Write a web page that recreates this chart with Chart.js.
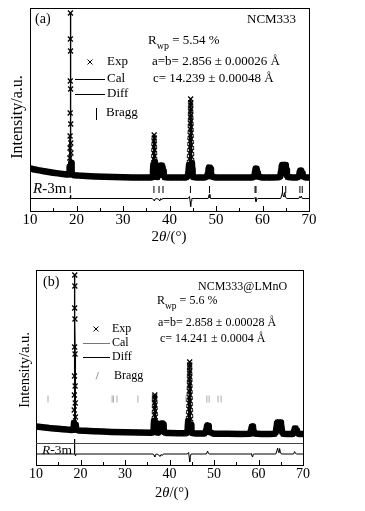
<!DOCTYPE html>
<html>
<head>
<meta charset="utf-8">
<script src="https://cdn.jsdelivr.net/npm/chart.js@4.4.0/dist/chart.umd.min.js"></script>
<style>
  html, body { margin: 0; padding: 0; background: #fff; }
  body { width: 365px; height: 511px; position: relative; overflow: hidden; }
  canvas { position: absolute; left: 0; }
  #panel-a { top: 0; }
  #panel-b { top: 255px; }
</style>
</head>
<body>
<canvas id="panel-a" width="365" height="250"></canvas>
<canvas id="panel-b" width="365" height="256"></canvas>
<script>
const SERIF = "'Liberation Serif', 'Times New Roman', Times, serif";

// 2θ tick labels (both panels)
const thetaTicks = [10, 20, 30, 40, 50, 60, 70];

// ---- (a) NCM333 : [2θ, intensity] ----
const obsA = [
    [10, 42.5], [11, 41.5], [12, 40.6], [13, 39.8], [14, 39], [15, 38.3], [16, 37.6], [17, 37], [18, 36.5], [18.3, 36.4],
    [18.45, 38], [18.52, 44], [18.56, 53], [18.6, 63], [18.62, 75], [18.64, 98], [18.66, 130], [18.68, 172], [18.7, 198],
    [18.72, 160], [18.74, 122], [18.76, 87], [18.78, 68], [18.81, 58], [18.85, 48], [18.9, 41], [19, 37],
    [19.5, 35.8], [20.5, 35.4], [22, 35], [24, 34.6], [26, 34.2], [28, 33.9], [30, 33.7], [32, 33.5], [34, 33.4], [36, 33.4],
    [36.3, 34], [36.45, 40], [36.52, 46], [36.57, 52], [36.6, 58], [36.63, 64], [36.66, 70], [36.7, 76], [36.73, 73],
    [36.76, 67], [36.79, 61], [36.82, 55], [36.86, 49], [36.9, 43], [36.98, 38], [37.1, 34.5], [37.4, 34],
    [37.75, 36], [37.9, 40], [38.0, 44], [38.15, 45.5], [38.35, 45.5], [38.5, 44], [38.62, 40], [38.75, 36], [39, 33.8],
    [40, 33.4], [42, 33.4], [43.6, 33.6],
    [43.95, 35], [44.1, 40], [44.2, 46], [44.27, 52], [44.32, 58], [44.36, 64], [44.39, 70], [44.42, 76], [44.45, 82],
    [44.47, 88], [44.49, 94], [44.51, 100], [44.53, 106], [44.55, 112], [44.57, 108], [44.59, 102], [44.61, 96],
    [44.63, 90], [44.65, 84], [44.67, 78], [44.69, 72], [44.72, 66], [44.75, 60], [44.78, 54], [44.82, 48], [44.88, 42],
    [44.96, 37], [45.1, 34],
    [46, 33.4], [47.5, 33.4],
    [48.1, 34.5], [48.28, 38], [48.4, 42], [48.52, 43.5], [48.68, 43.5], [48.8, 42], [48.92, 38], [49.1, 34.5],
    [50, 33.4], [53, 33.4], [56, 33.4], [57.8, 33.5],
    [58.2, 34.5], [58.35, 38], [58.48, 41.5], [58.6, 42.5], [58.75, 42], [58.88, 38], [59.02, 34.5],
    [60, 33.5], [62, 33.5], [63.5, 33.7],
    [63.85, 35], [64.0, 40], [64.12, 44.5], [64.25, 46], [64.4, 45.5], [64.55, 44.5], [64.7, 45], [64.85, 46],
    [65.0, 45], [65.12, 41], [65.25, 36], [65.45, 34],
    [66.5, 33.6], [67.5, 33.6],
    [67.85, 35], [67.98, 38.5], [68.1, 40], [68.25, 40.5], [68.4, 39.5], [68.52, 37.5], [68.65, 34.8],
    [69.3, 33.6], [70, 33.6],
];
// residual (obs - cal)
const diffA = [
    [10, 0], [18.5, 0], [18.62, 1], [18.7, 3.5], [18.78, -0.5], [18.9, 0],
    [36.3, 0], [36.6, -1.5], [36.75, -2.5], [36.9, -0.5], [37.3, 0], [37.7, -1], [37.9, -2.5], [38.1, 0], [38.3, -1.5], [38.5, 0],
    [44.0, 0], [44.3, 2], [44.45, -3.5], [44.55, -8], [44.65, -2.5], [44.8, 0],
    [48.3, 0], [48.55, 4], [48.7, 0.5], [48.9, 0],
    [58.2, 0], [58.4, 1], [58.6, -3], [58.8, -1], [59.0, 0],
    [63.9, 0], [64.15, 3.5], [64.3, 6.5], [64.45, 2.5], [64.6, 1.5], [64.8, 6], [64.95, 1.5], [65.2, 0],
    [67.8, 0], [68.0, 2], [68.15, 0.5], [68.35, 2.5], [68.55, 0], [70, 0],
];
// R-3m reflections
const braggA = [18.65, 36.65, 37.75, 38.6, 44.5, 48.6, 58.4, 58.6, 64.3, 65.0, 68.05, 68.55];

// ---- (b) NCM333@LMnO ----
const obsB = [
    [10, 38.5], [11, 38], [12, 37.5], [13, 37], [14, 36.6], [15, 36.2], [16, 35.8], [17, 35.4], [18, 35.1],
    [18.35, 35.2], [18.48, 38], [18.54, 42], [18.58, 55], [18.62, 70], [18.65, 89], [18.67, 118], [18.69, 157], [18.71, 190],
    [18.73, 179], [18.75, 146], [18.77, 111], [18.79, 79], [18.82, 62], [18.86, 48], [18.93, 40], [19.05, 35.5],
    [19.5, 34.6], [21, 34.2], [23, 33.8], [25, 33.4], [27, 33.1], [30, 32.8], [33, 32.5], [36, 32.3],
    [36.3, 33], [36.45, 38], [36.52, 44], [36.57, 50], [36.6, 56], [36.63, 62], [36.67, 68], [36.7, 70], [36.73, 66],
    [36.76, 60], [36.8, 54], [36.84, 48], [36.88, 42], [36.96, 37], [37.1, 33], [37.4, 32.3],
    [37.75, 34], [37.9, 38], [38.05, 41], [38.2, 41.5], [38.4, 41.5], [38.55, 40.5], [38.68, 37], [38.82, 33], [39.2, 32.1],
    [40, 32], [42, 31.8], [43.7, 31.8],
    [43.95, 33], [44.1, 38], [44.2, 44], [44.27, 50], [44.32, 56], [44.36, 62], [44.39, 68], [44.42, 74], [44.45, 80],
    [44.47, 86], [44.49, 92], [44.51, 98], [44.53, 103], [44.55, 100], [44.57, 94], [44.59, 88], [44.61, 82], [44.63, 76],
    [44.65, 70], [44.67, 64], [44.7, 58], [44.74, 52], [44.78, 46], [44.84, 40], [44.92, 35], [45.1, 32],
    [46, 31.5], [47.8, 31.4],
    [48.15, 33], [48.3, 36], [48.42, 38.5], [48.55, 39.5], [48.7, 39], [48.82, 36.5], [48.95, 33],
    [50, 31.3], [53, 31.2], [56, 31.1], [58, 31.2],
    [58.2, 32.5], [58.35, 35.5], [58.48, 38], [58.62, 38.5], [58.76, 37], [58.88, 34], [59.05, 31.5],
    [60.5, 31.1], [62.5, 31.1], [63.6, 31.3],
    [63.9, 33], [64.05, 38], [64.15, 41.5], [64.3, 42.5], [64.45, 41.5], [64.6, 41], [64.75, 41.5], [64.9, 42.5],
    [65.05, 41], [65.18, 37], [65.32, 33], [65.6, 31.2],
    [66.5, 31], [67.6, 31],
    [67.9, 32.5], [68.05, 35], [68.2, 36.5], [68.35, 36.5], [68.5, 34.5], [68.65, 32], [69.2, 31], [70, 31],
];
const diffB = [
    [10, 0], [18.55, 0], [18.62, 2], [18.68, 15], [18.73, 1], [18.8, -1.5], [18.95, 0],
    [36.3, 0], [36.55, -1.5], [36.7, -3], [36.85, -0.5], [37.2, 0], [37.6, -1], [37.85, -2.5], [38.1, -0.5], [38.4, -1.5], [38.6, 0],
    [44.0, 0], [44.3, 1.5], [44.45, -4], [44.55, -8], [44.65, -3], [44.85, 0],
    [48.3, 0], [48.55, 3], [48.75, 0.5], [48.9, 0],
    [58.2, 0], [58.4, 0.5], [58.55, -2.5], [58.75, -0.5], [59.0, 0],
    [63.9, 0], [64.15, 3.5], [64.3, 6], [64.45, 2.5], [64.6, 1.5], [64.75, 5.5], [64.9, 2], [65.15, 0],
    [67.9, 0], [68.1, 2.5], [68.3, 1], [68.5, 0], [70, 0],
];
// LMnO reflections
const braggB = [12.7, 27.1, 27.4, 28.2, 32.9, 36.1, 43.7, 48.4, 48.9, 50.9, 51.6];

const f = (size, style) => `${style || ''} ${size}px ${SERIF}`;

function txt(ctx, x, y, runs, align) {
    ctx.textBaseline = 'middle';
    ctx.textAlign = 'left';
    let w = 0;
    runs.forEach(r => { ctx.font = r.font; w += ctx.measureText(r.text).width; });
    let cx = align === 'center' ? x - w / 2 : x;
    runs.forEach(r => {
        ctx.font = r.font;
        ctx.fillText(r.text, cx, y + (r.dy || 0));
        cx += ctx.measureText(r.text).width;
    });
}

function line(ctx, x0, y0, x1, y1, color) {
    ctx.strokeStyle = color || '#000';
    ctx.beginPath();
    ctx.moveTo(x0, y0);
    ctx.lineTo(x1, y1);
    ctx.stroke();
}

function cross(ctx, x, y, r) {
    const d = r * Math.SQRT1_2;
    line(ctx, x - d, y - d, x + d, y + d);
    line(ctx, x - d, y + d, x + d, y - d);
}

function yTitle(ctx, x, y, size) {
    ctx.save();
    ctx.translate(x, y);
    ctx.rotate(-Math.PI / 2);
    ctx.textAlign = 'center';
    ctx.textBaseline = 'middle';
    ctx.font = f(size);
    ctx.fillText('Intensity/a.u.', 0, 0);
    ctx.restore();
}

function frameAndTicks(chart) {
    const { ctx, chartArea: a, scales } = chart;
    ctx.lineWidth = 1;
    ctx.strokeStyle = '#000';
    ctx.strokeRect(a.left + 0.5, a.top + 0.5, a.right - a.left, a.bottom - a.top);
    for (let t = 15; t < 70; t += 5) {
        const x = Math.round(scales.x.getPixelForValue(t)) + 0.5;
        line(ctx, x, a.bottom, x, a.bottom - (t % 10 === 0 ? 5 : 3));
    }
}

function makePanel(id, p) {
    const pts = arr => arr.map(([x, y]) => ({ x, y }));
    new Chart(document.getElementById(id), {
        type: 'line',
        data: {
            // index 0 is painted last (on top)
            datasets: [
                {   // Exp
                    data: pts(p.obs),
                    borderColor: '#000',
                    borderJoinStyle: 'round',
                    borderCapStyle: 'round',
                    segment: {
                        borderWidth: c => Math.max(c.p0.parsed.y, c.p1.parsed.y) < p.bandLimit ? 6.5 : 1.3,
                    },
                    pointStyle: 'crossRot',
                    pointRadius: 3.5,
                    pointBorderWidth: 1.3,
                    pointBorderColor: '#000',
                    tension: 0,
                },
                {   // Cal
                    data: pts(p.obs),
                    borderColor: p.calColor,
                    borderWidth: 1,
                    pointRadius: 0,
                    tension: 0,
                },
                {   // Diff
                    data: p.diff.map(([x, d]) => ({ x, y: d + p.diffOffset })),
                    borderColor: '#000',
                    borderWidth: 1,
                    pointRadius: 0,
                    tension: 0,
                },
                {   // Bragg
                    data: p.bragg.map(x => ({ x, y: p.braggLevel })),
                    showLine: false,
                    pointStyle: 'line',
                    rotation: 90,
                    pointRadius: 3.5,
                    pointBorderWidth: 1,
                    pointBorderColor: p.braggColor,
                },
            ]
        },
        options: {
            responsive: false,
            animation: false,
            devicePixelRatio: 1,
            layout: { padding: p.padding },
            scales: {
                x: {
                    type: 'linear',
                    min: 10,
                    max: 70,
                    grid: { display: false, drawTicks: false },
                    border: { display: false },
                    afterBuildTicks: s => { s.ticks = thetaTicks.map(v => ({ value: v })); },
                    ticks: { padding: p.tickPad, color: '#000', font: { family: SERIF, size: p.tickSize } },
                    afterFit: s => { s.height = p.axisH; },
                },
                y: { display: false, min: 0, max: p.yMax },
            },
            plugins: { legend: { display: false }, tooltip: { enabled: false } },
        },
        plugins: [{
            id: 'decor',
            afterDraw(chart) {
                const ctx = chart.ctx;
                ctx.save();
                frameAndTicks(chart);
                ctx.fillStyle = '#000';
                p.decor(ctx, chart);
                ctx.restore();
            }
        }]
    });
}

makePanel('panel-a', {
    obs: obsA, diff: diffA, bragg: braggA,
    calColor: '#000', braggColor: '#000',
    bandLimit: 50, diffOffset: 12.5, braggLevel: 21.5, yMax: 203,
    padding: { left: 30, right: 56, top: 8, bottom: 0 },
    axisH: 39, tickPad: 0, tickSize: 15,
    decor(ctx) {
        txt(ctx, 35, 19, [{ text: '(a)', font: f(14) }]);
        txt(ctx, 247, 20, [{ text: 'NCM333', font: f(13) }]);
        txt(ctx, 148, 41, [{ text: 'R', font: f(13) }, { text: 'wp', font: f(10), dy: 5 }, { text: ' = 5.54 %', font: f(13) }]);
        txt(ctx, 152, 62, [{ text: 'a=b= 2.856 ± 0.00026 Å', font: f(13) }]);
        txt(ctx, 153, 79, [{ text: 'c= 14.239 ± 0.00048 Å', font: f(13) }]);
        // legend
        cross(ctx, 90, 62, 3.5);
        line(ctx, 75, 79.5, 105, 79.5);
        line(ctx, 75, 94.5, 105, 94.5);
        line(ctx, 96.5, 108, 96.5, 120);
        txt(ctx, 107, 62, [{ text: 'Exp', font: f(13) }]);
        txt(ctx, 107, 79, [{ text: 'Cal', font: f(13) }]);
        txt(ctx, 107, 94, [{ text: 'Diff', font: f(13) }]);
        txt(ctx, 106, 113, [{ text: 'Bragg', font: f(13) }]);
        txt(ctx, 33, 189, [{ text: 'R', font: f(15, 'italic') }, { text: '-3m', font: f(15) }]);
        txt(ctx, 169, 237, [{ text: '2', font: f(15) }, { text: 'θ', font: f(15, 'italic') }, { text: '/(°)', font: f(15) }], 'center');
        yTitle(ctx, 17.5, 117, 16);
    }
});

makePanel('panel-b', {
    obs: obsB, diff: diffB, bragg: braggB,
    calColor: '#777', braggColor: '#aaa',
    bandLimit: 46, diffOffset: 11, braggLevel: 66, yMax: 195,
    padding: { left: 36, right: 62, top: 15, bottom: 0 },
    axisH: 46, tickPad: 1, tickSize: 14,
    decor(ctx, chart) {
        const a = chart.chartArea;
        const ySep = Math.round(chart.scales.y.getPixelForValue(22)) + 0.5;
        line(ctx, a.left, ySep, a.right, ySep, '#444');
        ctx.fillStyle = '#000';
        txt(ctx, 43, 27, [{ text: '(b)', font: f(14) }]);
        txt(ctx, 198, 32, [{ text: 'NCM333@LMnO', font: f(12) }]);
        txt(ctx, 157, 46, [{ text: 'R', font: f(12) }, { text: 'wp', font: f(9.5), dy: 5 }, { text: ' = 5.6 %', font: f(12) }]);
        txt(ctx, 158, 68, [{ text: 'a=b= 2.858 ± 0.00028 Å', font: f(12) }]);
        txt(ctx, 160, 84, [{ text: 'c= 14.241 ± 0.0004 Å', font: f(12) }]);
        // legend
        cross(ctx, 96, 74, 3.5);
        line(ctx, 83, 88.5, 110, 88.5, '#777');
        line(ctx, 83, 102.5, 110, 102.5, '#000');
        line(ctx, 96, 124.5, 98.5, 117, '#999');
        txt(ctx, 112, 74, [{ text: 'Exp', font: f(12) }]);
        txt(ctx, 112, 88, [{ text: 'Cal', font: f(12) }]);
        txt(ctx, 112, 102, [{ text: 'Diff', font: f(12) }]);
        txt(ctx, 114, 121, [{ text: 'Bragg', font: f(12) }]);
        txt(ctx, 42, 195, [{ text: 'R', font: f(13.5, 'italic') }, { text: '-3m', font: f(13.5) }]);
        txt(ctx, 172, 238, [{ text: '2', font: f(14.5) }, { text: 'θ', font: f(14.5, 'italic') }, { text: '/(°)', font: f(14.5) }], 'center');
        yTitle(ctx, 25, 115, 14.5);
    }
});
</script>
</body>
</html>
